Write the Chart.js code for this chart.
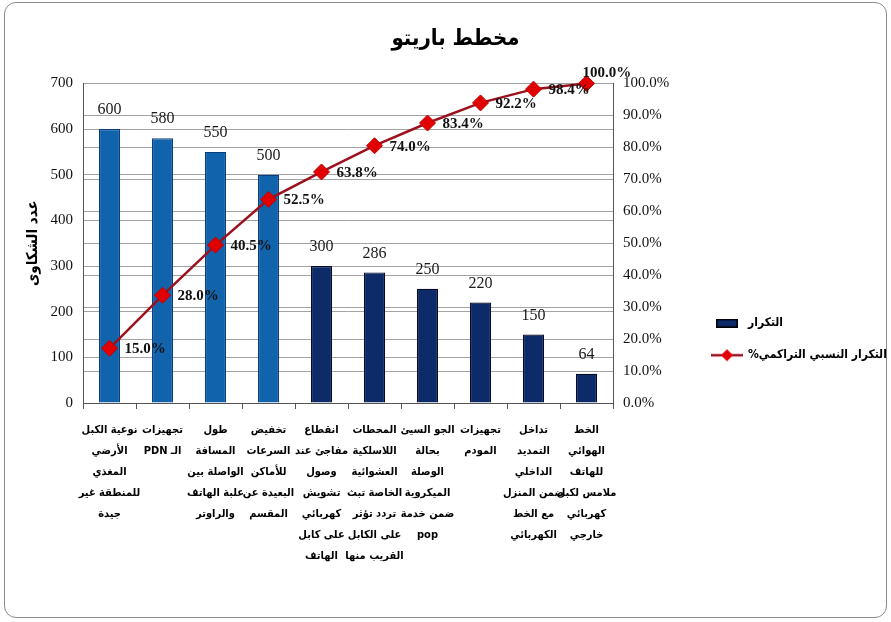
<!DOCTYPE html>
<html><head><meta charset="utf-8">
<script src="https://cdn.jsdelivr.net/npm/chart.js@4.4.1/dist/chart.umd.min.js"></script>
<style>
html,body{margin:0;padding:0;background:#fff;}
#wrap{position:relative;width:891px;height:622px;}
#frame{position:absolute;left:4px;top:2px;width:881px;height:614px;border:1px solid #8c8c8c;border-radius:12px;}
canvas{position:absolute;left:0;top:0;}
</style></head><body>
<div id="wrap"><div id="frame"></div><canvas id="c" width="891" height="622"></canvas></div>
<script>
const categories = [
  ['نوعية الكبل','الأرضي','المغذي','للمنطقة غير','جيدة'],
  ['تجهيزات','\u202Bالـ PDN\u202C'],
  ['طول','المسافة','الواصلة بين','علبة الهاتف','والراوتر'],
  ['تخفيض','السرعات','للأماكن','البعيدة عن','المقسم'],
  ['انقطاع','مفاجئ عند','وصول','تشويش','كهربائي','على كابل','الهاتف'],
  ['المحطات','اللاسلكية','العشوائية','الخاصة تبث','تردد تؤثر','على الكابل','القريب منها'],
  ['الجو السيئ','بحالة','الوصلة','الميكروية','ضمن خدمة','pop'],
  ['تجهيزات','المودم'],
  ['تداخل','التمديد','الداخلي','ضمن المنزل','مع الخط','الكهربائي'],
  ['الخط','الهوائي','للهاتف','ملامس لكبل','كهربائي','خارجي']
];
const frequency = [600,580,550,500,300,286,250,220,150,64];
const barLabels = ['600','580','550','500','300','286','250','220','150','64'];
const cumulativePct = [17.1,33.7,49.4,63.7,72.3,80.5,87.6,93.9,98.2,100];
const cumulativeLabels = ['15.0%','28.0%','40.5%','52.5%','63.8%','74.0%','83.4%','92.2%','98.4%','100.0%'];
const seriesNames = ['التكرار','التكرار النسبي التراكمي%'];
const chartTitle = 'مخطط باريتو';
const yTitle = 'عدد الشكاوى';

const lightBlue = '#1163AC', navy = '#0D2B68';
const barColors = frequency.map((v,i)=> i<4 ? lightBlue : navy);
const barBorders = frequency.map((v,i)=> i<4 ? '#0B3E7C' : '#050A25');

const AR = "'DejaVu Sans Condensed','DejaVu Sans',sans-serif";
const SERIF = "'Liberation Serif','Times New Roman',serif";

function legendBar(){
  const c=document.createElement('canvas'); c.width=22; c.height=9;
  const x=c.getContext('2d'); x.fillStyle=navy; x.fillRect(0,0,22,9);
  x.strokeStyle='#000'; x.lineWidth=1.5; x.strokeRect(0.75,0.75,20.5,7.5); return c;
}
function legendLine(){
  const c=document.createElement('canvas'); c.width=32; c.height=14;
  const x=c.getContext('2d'); x.strokeStyle='#9B111E'; x.lineWidth=2.5;
  x.beginPath(); x.moveTo(0,7); x.lineTo(32,7); x.stroke();
  x.fillStyle='#E00000'; x.beginPath(); x.moveTo(16,1); x.lineTo(22,7); x.lineTo(16,13); x.lineTo(10,7); x.closePath(); x.fill();
  return c;
}
const legendImgs=[legendBar(), legendLine()];

const labelPlugin = {
  id:'valueLabels',
  afterDatasetsDraw(chart){
    const ctx=chart.ctx;
    const bars=chart.getDatasetMeta(0).data;
    ctx.save();
    ctx.fillStyle='#1a1a1a'; ctx.font="16px "+SERIF; ctx.textAlign='center'; ctx.textBaseline='bottom';
    bars.forEach((b,i)=>{ ctx.fillText(barLabels[i], b.x, b.y-11); });
    const pts=chart.getDatasetMeta(1).data;
    ctx.font="bold 15px "+SERIF; ctx.fillStyle='#111'; ctx.textBaseline='middle'; ctx.textAlign='left';
    pts.forEach((p,i)=>{
      if(i===pts.length-1) ctx.fillText(cumulativeLabels[i], p.x-4, p.y-10);
      else ctx.fillText(cumulativeLabels[i], p.x+15, p.y+1);
    });
    ctx.restore();
  }
};

Chart.defaults.color='#000';
new Chart(document.getElementById('c'),{
  data:{
    labels:categories,
    datasets:[
      {type:'bar', label:seriesNames[0], data:frequency, backgroundColor:barColors, borderColor:barBorders, borderWidth:1.2,
       categoryPercentage:1, barPercentage:0.4, yAxisID:'y', order:2},
      {type:'line', label:seriesNames[1], data:cumulativePct, borderColor:'#9B111E', borderWidth:2.5,
       pointStyle:'rectRot', pointRadius:8, pointBackgroundColor:'#E00000', pointBorderColor:'#C00000', pointBorderWidth:1,
       yAxisID:'y1', order:1, clip:false, tension:0}
    ]
  },
  options:{
    responsive:false, animation:false,
    layout:{padding:{left:20,right:0,top:0,bottom:44}},
    plugins:{
      title:{display:true, text:chartTitle, font:{family:AR,size:22,weight:'bold'}, color:'#000', padding:{top:26,bottom:31}},
      legend:{display:true, position:'right', align:'center', maxWidth:199,
        title:{display:true, text:' ', font:{size:12}, padding:{top:86,bottom:0}},
        textDirection:'rtl',
        labels:{usePointStyle:true, pointStyleWidth:30, padding:20, color:'#000',
          font:{family:AR,size:12,weight:'bold'},
          sort:(a,b)=>a.datasetIndex-b.datasetIndex,
          generateLabels(chart){
            const items=Chart.defaults.plugins.legend.labels.generateLabels(chart);
            items.forEach((it)=>{ it.pointStyle=legendImgs[it.datasetIndex]; });
            return items;
          }}},
      tooltip:{enabled:false}
    },
    scales:{
      x:{grid:{display:true, drawOnChartArea:false, offset:true, tickLength:6, color:'#555'}, border:{color:'#555'},
         ticks:{maxRotation:0, minRotation:0, autoSkip:false, padding:11, color:'#000',
           font:{family:AR,size:11,weight:'bold',lineHeight:'21px'}}},
      y:{position:'left', min:0, max:700, grid:{color:'#a3a3a3', drawTicks:false}, border:{color:'#555'},
         ticks:{stepSize:100, padding:10, color:'#111', font:{family:SERIF,size:15}},
         title:{display:true, text:yTitle, color:'#000', font:{family:AR,size:15,weight:'bold'}, padding:{top:4,bottom:0}},
         afterFit(s){ s.width=63; }},
      y1:{position:'right', min:0, max:100, grid:{color:'#a3a3a3', drawTicks:false}, border:{color:'#555'},
         ticks:{stepSize:10, padding:10, color:'#111', font:{family:SERIF,size:15}, callback:v=>v.toFixed(1)+'%'},
         afterFit(s){ s.width=79; }}
    }
  },
  plugins:[labelPlugin]
});
</script>
</body></html>
